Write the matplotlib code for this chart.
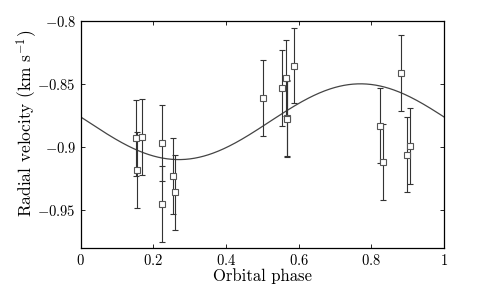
import matplotlib
matplotlib.use('Agg')
import matplotlib.pyplot as plt
import numpy as np

plt.rcParams['font.family'] = 'serif'
plt.rcParams['font.serif'] = ['cmr10', 'DejaVu Serif']
plt.rcParams['mathtext.fontset'] = 'cm'
plt.rcParams['axes.unicode_minus'] = False

# observed radial velocities
phase = [0.152, 0.154, 0.168, 0.224, 0.224, 0.253, 0.259,
         0.503, 0.555, 0.565, 0.567, 0.568, 0.587,
         0.825, 0.831, 0.882, 0.898, 0.906]
rv = [-0.893, -0.918, -0.892, -0.897, -0.945, -0.923, -0.936,
      -0.861, -0.853, -0.8455, -0.877, -0.878, -0.8355,
      -0.883, -0.912, -0.8416, -0.906, -0.899]
rv_err = [0.030] * len(phase)

# fitted orbit
gamma = -0.880
K = 0.030
phi0 = 0.52

fig = plt.figure(figsize=(4.91, 2.91), dpi=100)
ax = fig.add_axes([0.1644, 0.1478, 0.9043 - 0.1644, 0.9289 - 0.1478])

ph = np.linspace(0, 1, 400)
ax.plot(ph, gamma + K * np.sin(2 * np.pi * (ph - phi0)), color='#444444', lw=0.9)

ax.errorbar(phase, rv, yerr=rv_err, fmt='s', ms=4.5, mfc='white', mec='#555555',
            mew=0.8, ecolor='#333333', elinewidth=0.8, capsize=2.5, capthick=0.8)

ax.set_xlim(0, 1)
ax.set_ylim(-0.98, -0.8)
ax.set_xticks([0, 0.2, 0.4, 0.6, 0.8, 1])
ax.set_xticklabels(['$0$', '$0.2$', '$0.4$', '$0.6$', '$0.8$', '$1$'])
ax.set_yticks([-0.95, -0.9, -0.85, -0.8])
ax.set_yticklabels(['$-0.95$', '$-0.9$', '$-0.85$', '$-0.8$'])
ax.tick_params(direction='in', top=True, right=True, labelsize=10.5, length=3, width=0.6)
for s in ax.spines.values():
    s.set_linewidth(0.9)

ax.set_xlabel('Orbital phase', fontsize=12, labelpad=0)
ax.set_ylabel(r'Radial velocity (km s$^{-1}$)', fontsize=12.5)
ax.yaxis.set_label_coords(-0.115, 0.55)

fig.savefig('out.png', dpi=100)
